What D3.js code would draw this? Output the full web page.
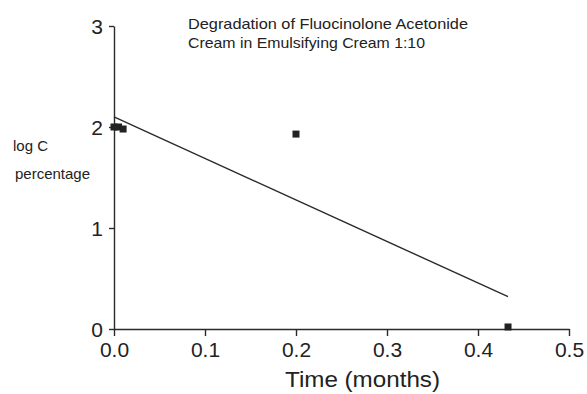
<!DOCTYPE html>
<html><head><meta charset="utf-8">
<script src="https://cdn.jsdelivr.net/npm/d3@7"></script>
<style>body{margin:0;background:#fff}svg{display:block}text{font-family:"Liberation Sans",Arial,sans-serif;fill:#222}</style>
</head><body><svg id="c" width="587" height="394"></svg>
<script>
const timeMonths = [0, 0.005, 0.01, 0.2, 0.433];
const logC = [2.0, 2.0, 1.98, 1.93, 0.02];
const fitX = [0, 0.433];
const fitY = [2.10, 0.32];
const xTicks = [0, 0.1, 0.2, 0.3, 0.4, 0.5];
const yTicks = [0, 1, 2, 3];
const titleLines = ["Degradation of Fluocinolone Acetonide", "Cream in Emulsifying Cream 1:10"];

const svg = d3.select("#c");
const x = d3.scaleLinear().domain([0, 0.5]).range([114, 569]);
const y = d3.scaleLinear().domain([0, 3]).range([329, 26]);
const ink = "#2a2a2a";

const gx = svg.append("g").attr("transform", "translate(0,329)")
  .call(d3.axisBottom(x).tickValues(xTicks).tickFormat(d3.format(".1f")).tickSize(7).tickSizeOuter(0));
gx.select(".domain").attr("stroke", ink).attr("stroke-width", 1.4);
gx.selectAll(".tick line").attr("stroke", ink).attr("stroke-width", 1.4);
gx.selectAll(".tick text").attr("font-size", 21).attr("y", 0).attr("dy", 28).attr("fill", ink)
  .attr("font-family", '"Liberation Sans",Arial,sans-serif');

const gy = svg.append("g").attr("transform", "translate(114,0)")
  .call(d3.axisLeft(y).tickValues(yTicks).tickFormat(d3.format("d")).tickSize(5).tickSizeOuter(0));
gy.select(".domain").attr("stroke", ink).attr("stroke-width", 1.4);
gy.selectAll(".tick line").attr("stroke", ink).attr("stroke-width", 1.4);
gy.selectAll(".tick text").attr("font-size", 21).attr("x", -11).attr("dy", "0.35em").attr("fill", ink)
  .attr("font-family", '"Liberation Sans",Arial,sans-serif');

// fitted line
svg.append("path")
  .attr("d", d3.line().x(d => x(d[0])).y(d => y(d[1]))(d3.zip(fitX, fitY)))
  .attr("stroke", ink).attr("stroke-width", 1.4).attr("fill", "none");

// points
const s = 7;
svg.selectAll("rect.pt").data(d3.zip(timeMonths, logC)).join("rect")
  .attr("class", "pt")
  .attr("x", d => x(d[0]) - s / 2).attr("y", d => y(d[1]) - s / 2)
  .attr("width", s).attr("height", s).attr("fill", "#222");

// title
svg.append("text").attr("x", 188).attr("y", 29).attr("font-size", 15)
  .attr("textLength", 280).attr("lengthAdjust", "spacingAndGlyphs").text(titleLines[0]);
svg.append("text").attr("x", 188).attr("y", 48).attr("font-size", 15)
  .attr("textLength", 237).attr("lengthAdjust", "spacingAndGlyphs").text(titleLines[1]);

// y label
svg.append("text").attr("x", 13).attr("y", 151).attr("font-size", 15).text("log C");
svg.append("text").attr("x", 15).attr("y", 179).attr("font-size", 15).text("percentage");

// x label
svg.append("text").attr("x", 285).attr("y", 387).attr("font-size", 22)
  .attr("textLength", 155).attr("lengthAdjust", "spacingAndGlyphs").text("Time (months)");
</script></body></html>
